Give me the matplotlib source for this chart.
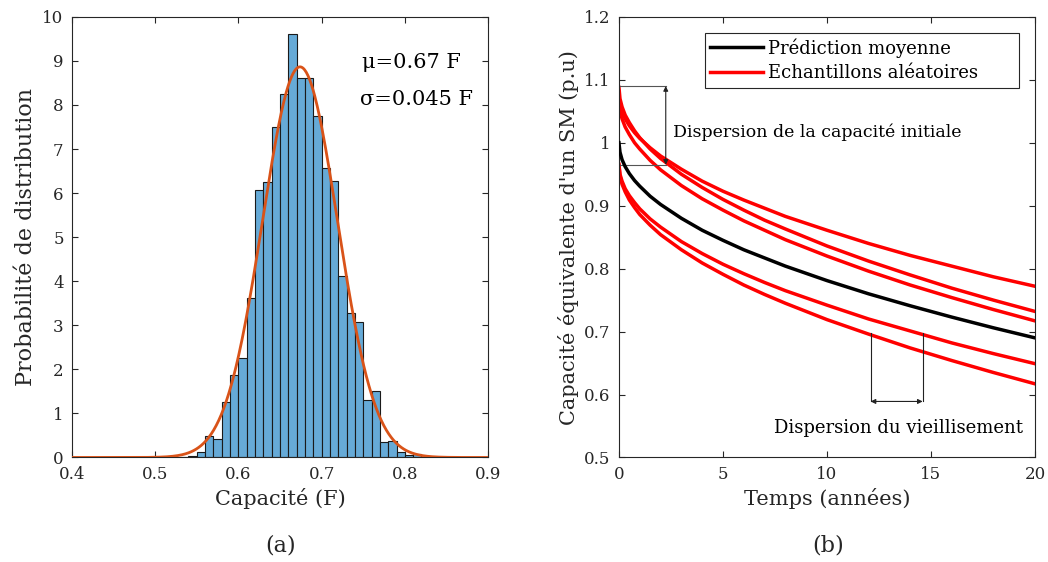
import numpy as np
import matplotlib.pyplot as plt

plt.rcParams['font.family'] = ['DejaVu Serif']

# (a) histogram of capacity (density), bins of 0.01 F
bin_left = [0.53, 0.54, 0.55, 0.56, 0.57, 0.58, 0.59, 0.60, 0.61, 0.62,
            0.63, 0.64, 0.65, 0.66, 0.67, 0.68, 0.69, 0.70, 0.71, 0.72,
            0.73, 0.74, 0.75, 0.76, 0.77, 0.78, 0.79, 0.80, 0.81]
density = [0.02, 0.04, 0.13, 0.49, 0.41, 1.25, 1.87, 2.25, 3.63, 6.07,
           6.25, 7.49, 8.24, 9.61, 8.61, 8.61, 7.74, 6.58, 6.28, 4.12,
           3.29, 3.08, 1.30, 1.50, 0.34, 0.38, 0.13, 0.06, 0.09]
mu = 0.674
sigma = 0.045

# (b) capacity vs time (years)
t = [0, 0.05, 0.15, 0.3, 0.5, 0.75, 1, 1.5, 2, 3, 4, 5, 6, 7, 8,
     10, 12, 14, 16, 18, 20]
mean_pred = [1.000, 0.985, 0.973, 0.962, 0.951, 0.940, 0.931, 0.915, 0.902,
             0.880, 0.861, 0.845, 0.830, 0.817, 0.804, 0.781, 0.760, 0.741,
             0.723, 0.706, 0.690]
samples = [
    [1.075, 1.060, 1.049, 1.038, 1.027, 1.016, 1.007, 0.992, 0.979, 0.958,
     0.939, 0.923, 0.909, 0.896, 0.883, 0.861, 0.840, 0.821, 0.804, 0.787, 0.772],
    [1.088, 1.070, 1.057, 1.044, 1.032, 1.019, 1.008, 0.990, 0.975, 0.950,
     0.929, 0.910, 0.893, 0.877, 0.863, 0.836, 0.812, 0.790, 0.769, 0.750, 0.732],
    [1.069, 1.051, 1.038, 1.025, 1.013, 1.000, 0.990, 0.972, 0.957, 0.932,
     0.911, 0.893, 0.876, 0.861, 0.846, 0.820, 0.796, 0.774, 0.754, 0.735, 0.717],
    [0.966, 0.950, 0.939, 0.927, 0.916, 0.905, 0.895, 0.879, 0.866, 0.843,
     0.824, 0.807, 0.792, 0.778, 0.765, 0.742, 0.720, 0.701, 0.682, 0.665, 0.649],
    [0.964, 0.947, 0.934, 0.922, 0.909, 0.897, 0.886, 0.869, 0.854, 0.830,
     0.809, 0.791, 0.774, 0.759, 0.745, 0.719, 0.696, 0.674, 0.654, 0.635, 0.617],
]

axcol = '#262626'
fig = plt.figure(figsize=(10.48, 5.62), dpi=100)
ax1 = fig.add_axes([0.0687, 0.186, 0.397, 0.784])
ax2 = fig.add_axes([0.5906, 0.186, 0.397, 0.784])

for ax in (ax1, ax2):
    for s in ax.spines.values():
        s.set_color(axcol)
        s.set_linewidth(0.8)
    ax.tick_params(direction='in', top=True, right=True, colors=axcol,
                   labelsize=12, length=4, width=0.8, pad=6)

# --- (a)
ax1.bar(bin_left, density, width=0.01, align='edge', color='#66AAD7',
        edgecolor='#1a1a1a', linewidth=0.8, zorder=2)
xs = np.linspace(0.4, 0.9, 500)
pdf = np.exp(-0.5 * ((xs - mu) / sigma) ** 2) / (sigma * np.sqrt(2 * np.pi))
ax1.plot(xs, pdf, color='#D95319', lw=2, zorder=3)
ax1.set_xlim(0.4, 0.9)
ax1.set_ylim(0, 10)
ax1.set_xticks([0.4, 0.5, 0.6, 0.7, 0.8, 0.9])
ax1.set_yticks(range(0, 11))
ax1.set_xlabel('Capacité (F)', fontsize=15, color=axcol)
ax1.set_ylabel('Probabilité de distribution', fontsize=16, color=axcol)
ax1.text(0.748, 8.96, 'μ=0.67 F', fontsize=15, ha='left', va='center')
ax1.text(0.746, 8.12, 'σ=0.045 F', fontsize=15, ha='left', va='center')
fig.text(0.268, 0.018, '(a)', fontsize=16, ha='center', va='baseline', color=axcol)

# --- (b)
ax2.plot(t, mean_pred, color='black', lw=2.5, label='Prédiction moyenne', zorder=3)
for i, s in enumerate(samples):
    ax2.plot(t, s, color='red', lw=2.5, zorder=2,
             label='Echantillons aléatoires' if i == 0 else None)
ax2.set_xlim(0, 20)
ax2.set_ylim(0.5, 1.2)
ax2.set_xticks([0, 5, 10, 15, 20])
ax2.set_yticks([0.5, 0.6, 0.7, 0.8, 0.9, 1.0, 1.1, 1.2])
ax2.set_yticklabels(['0.5', '0.6', '0.7', '0.8', '0.9', '1', '1.1', '1.2'])
ax2.set_xlabel('Temps (années)', fontsize=15, color=axcol)
ax2.set_ylabel("Capacité équivalente d'un SM (p.u)", fontsize=15, color=axcol)
leg = ax2.legend(loc='upper left', bbox_to_anchor=(0.2067, 0.8436, 0.7548, 0.12),
                 mode='expand', fontsize=13,
                 frameon=True, fancybox=False, edgecolor=axcol, framealpha=1,
                 handlelength=2.9, borderpad=0.3, labelspacing=0.35,
                 handletextpad=0.3, borderaxespad=0)
leg.get_frame().set_linewidth(0.8)

# initial capacity dispersion bracket
ax2.plot([0, 2.25], [1.09, 1.09], color='#555555', lw=0.8)
ax2.plot([0, 2.25], [0.965, 0.965], color='#555555', lw=0.8)
ax2.annotate('', xy=(2.25, 1.09), xytext=(2.25, 0.965),
             arrowprops=dict(arrowstyle='<|-|>', color='#222222', lw=0.8,
                             mutation_scale=7, shrinkA=0, shrinkB=0))
ax2.text(2.6, 1.016, 'Dispersion de la capacité initiale', fontsize=12.5,
         ha='left', va='center')

# ageing dispersion bracket
ax2.plot([12.1, 12.1], [0.697, 0.589], color='#222222', lw=0.8)
ax2.plot([14.6, 14.6], [0.697, 0.589], color='#222222', lw=0.8)
ax2.annotate('', xy=(12.1, 0.589), xytext=(14.6, 0.589),
             arrowprops=dict(arrowstyle='<|-|>', color='#222222', lw=0.8,
                             mutation_scale=7, shrinkA=0, shrinkB=0))
ax2.text(19.4, 0.547, 'Dispersion du vieillisement', fontsize=13,
         ha='right', va='center')
fig.text(0.79, 0.018, '(b)', fontsize=16, ha='center', va='baseline', color=axcol)

fig.savefig('out.png', dpi=100)
